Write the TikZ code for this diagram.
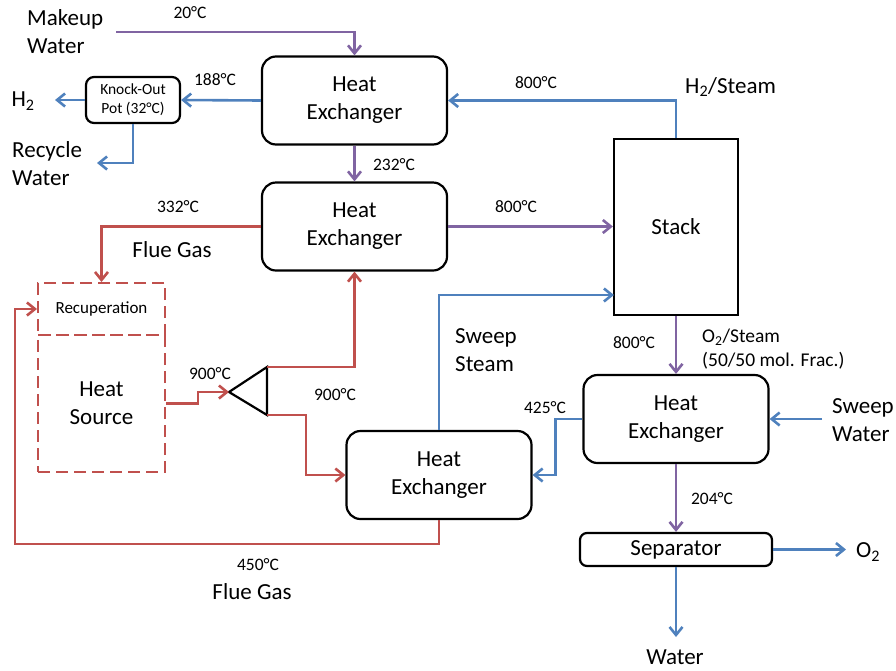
\documentclass[tikz,border=0pt]{standalone}
\usepackage{fontspec}
\setmainfont{Carlito}
\usetikzlibrary{arrows.meta,calc}
\definecolor{flowblue}{HTML}{4F81BD}
\definecolor{flowred}{HTML}{C0504D}
\definecolor{flowpurple}{HTML}{8064A2}

\begin{document}
\begin{tikzpicture}[x=1pt,y=-1pt,
  big/.style={font=\fontsize{23}{28}\selectfont},
  temp/.style={font=\fontsize{17.5}{20}\selectfont},
  unit/.style={draw=black, line width=2.2pt, rounded corners=14pt, align=center, big, inner sep=0pt},
  hx/.style={unit, minimum width=185pt, minimum height=88pt},
  dashbox/.style={draw=flowred, line width=2pt, dash pattern=on 12pt off 6pt, inner sep=0pt, align=center},
  pipe/.style={line width=2.6pt, -{Straight Barb[length=8pt,width=13pt]}},
  bpipe/.style={pipe, draw=flowblue},
  rpipe/.style={pipe, draw=flowred},
  ppipe/.style={pipe, draw=flowpurple},
  lab/.style={big, inner sep=0pt},
  leftlab/.style={big, inner sep=0pt, anchor=west, align=left},
]
\useasboundingbox (0,0) rectangle (896,670);

% --- process units ---
\node[hx] (hx1) at (354.5,100.5) {Heat\\Exchanger};
\node[hx] (hx2) at (354.5,226.5) {Heat\\Exchanger};
\node[hx] (hx3) at (439,475) {Heat\\Exchanger};
\node[hx] (hx4) at (676,419) {Heat\\Exchanger};
\node[unit, rounded corners=0pt, minimum width=124pt, minimum height=176pt] (stack) at (676,227) {Stack};
\node[unit, rounded corners=7pt, minimum width=192pt, minimum height=33pt] (sep) at (676,549.5) {Separator};
\node[unit, rounded corners=8pt, minimum width=94pt, minimum height=46pt,
      font=\fontsize{15.5}{19}\selectfont] (ko) at (133,100) {Knock-Out\\Pot (32°C)};
\node[dashbox, minimum width=127pt, minimum height=52pt,
      font=\fontsize{17}{20}\selectfont] (recup) at (101.5,309) {Recuperation};
\node[dashbox, minimum width=127pt, minimum height=137pt, big] (hsrc) at (101.5,403.5) {Heat\\Source};

% splitter
\coordinate (tip) at (229,392);
\coordinate (ttop) at (267,367);
\coordinate (tbot) at (267,415);
\draw[line width=2.2pt, line join=miter] (tip) -- (ttop) -- (tbot) -- cycle;

% --- free ends ---
\coordinate (mw) at (116,32);
\coordinate (h2out) at (55,100);
\coordinate (rwout) at (97,163);
\coordinate (loop) at (15,544);
\coordinate (stin) at (614,295);
\coordinate (swin) at (822,419);
\coordinate (o2out) at (846,549.5);
\coordinate (wout) at (676,637);

% --- water / hydrogen side ---
\draw[ppipe] (mw) -| (hx1.north);
\draw[ppipe] (hx1.south) -- (hx2.north);
\draw[ppipe] (hx2.east) -- (hx2.east -| stack.west);
\draw[bpipe] (stack.north) |- (hx1.east);
\draw[bpipe] (hx1.west) -- (ko.east);
\draw[bpipe] (ko.west) -- (h2out);
\draw[bpipe] (ko.south) |- (rwout);

% --- heat source loop ---
\draw[rpipe] (hx2.west) -| (recup.north);
\draw[rpipe] (hsrc.east) -- ++(32,0) |- (tip);
\draw[rpipe] (ttop) -| (hx2.south);
\draw[rpipe] (tbot) -- ++(39,0) |- (hx3.west);
\draw[rpipe] (hx3.south) |- (loop) |- (recup.west);

% --- oxygen / sweep side ---
\draw[bpipe] (hx3.north) |- (stin);
\draw[ppipe] (stack.south) -- (hx4.north);
\draw[bpipe] (hx4.west) -- ++(-27,0) |- (hx3.east);
\draw[bpipe] (swin) -- (hx4.east);
\draw[ppipe] (hx4.south) -- (sep.north);
\draw[bpipe] (sep.east) -- (o2out);
\draw[bpipe] (sep.south) -- (wout);

% --- stream labels ---
\node[leftlab] (lmw) at (27,32) {Makeup\\Water};
\node[temp] (t20) at (190,13) {20°C};
\node[lab] (lh2) at (23,101) {H\textsubscript{2}};
\node[leftlab] (lrw) at (12,164) {Recycle\\Water};
\node[temp] (t188) at (215,80) {188°C};
\node[temp] (t800a) at (536,83) {800°C};
\node[lab, anchor=west] (lh2s) at (685,87) {H\textsubscript{2}/Steam};
\node[temp] (t232) at (394,165) {232°C};
\node[temp] (t800b) at (516,207) {800°C};
\node[temp] (t332) at (178,207) {332°C};
\node[lab] (lfg1) at (172,250) {Flue Gas};
\node[temp] (t900a) at (210,374) {900°C};
\node[temp] (t900b) at (335,395) {900°C};
\node[leftlab] (lss) at (455,350) {Sweep\\Steam};
\node[temp] (t800c) at (634,343) {800°C};
\node[leftlab, font=\fontsize{19.5}{24}\selectfont] (lo2s) at (702,349) {O\textsubscript{2}/Steam\\(50/50 mol. Frac.)};
\node[temp] (t425) at (545,408) {425°C};
\node[leftlab] (lsw) at (832,420) {Sweep\\Water};
\node[temp] (t204) at (712,499) {204°C};
\node[lab] (lo2) at (868,552) {O\textsubscript{2}};
\node[lab] (lw) at (675,657) {Water};
\node[temp] (t450) at (258,565) {450°C};
\node[lab] (lfg2) at (252,592) {Flue Gas};
\end{tikzpicture}
\end{document}
